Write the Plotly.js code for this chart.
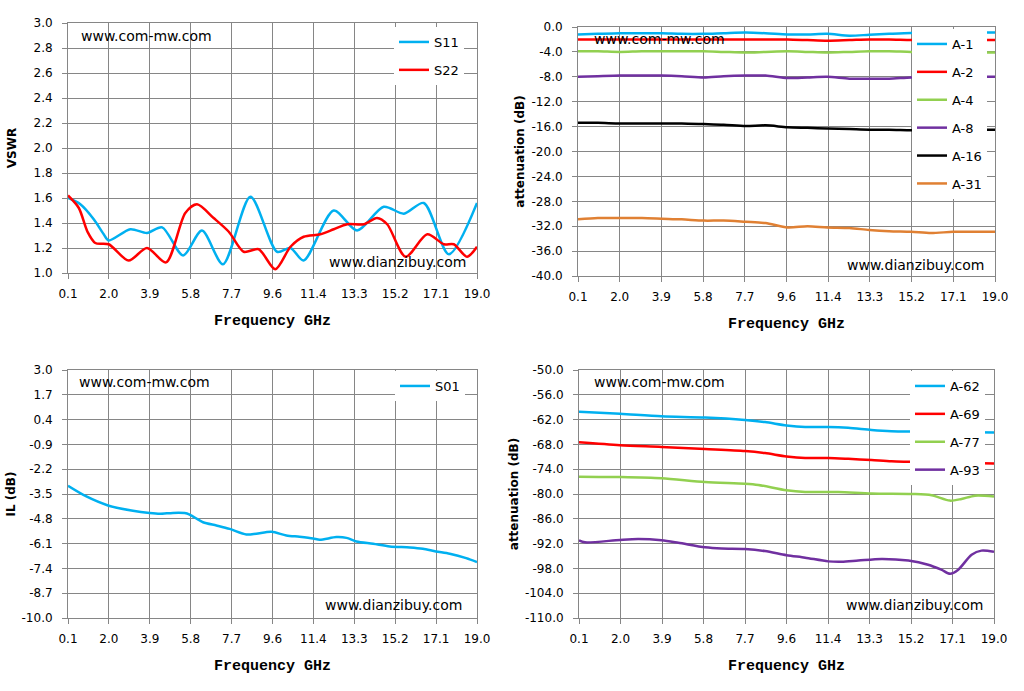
<!DOCTYPE html>
<html>
<head>
<meta charset="utf-8">
<script src="https://cdn.plot.ly/plotly-3.0.1.min.js"></script>
<style>html,body{margin:0;padding:0;background:#fff;}#chart{width:1024px;height:691px;}</style>
</head>
<body>
<div id="chart"></div>
<script>
// ---- tick labels ----
const freqTickVals = [0.1, 1.99, 3.88, 5.77, 7.66, 9.55, 11.44, 13.33, 15.22, 17.11, 19.0];
const freqTickText = ['0.1', '2.0', '3.9', '5.8', '7.7', '9.6', '11.4', '13.3', '15.2', '17.1', '19.0'];
const vswrTicks = [1.0, 1.2, 1.4, 1.6, 1.8, 2.0, 2.2, 2.4, 2.6, 2.8, 3.0];
const vswrTickText = ['1.0', '1.2', '1.4', '1.6', '1.8', '2.0', '2.2', '2.4', '2.6', '2.8', '3.0'];
const attLowTicks = [-40, -36, -32, -28, -24, -20, -16, -12, -8, -4, 0];
const attLowTickText = ['-40.0', '-36.0', '-32.0', '-28.0', '-24.0', '-20.0', '-16.0', '-12.0', '-8.0', '-4.0', '0.0'];
const ilTicks = [-10, -8.7, -7.4, -6.1, -4.8, -3.5, -2.2, -0.9, 0.4, 1.7, 3.0];
const ilTickText = ['-10.0', '-8.7', '-7.4', '-6.1', '-4.8', '-3.5', '-2.2', '-0.9', '0.4', '1.7', '3.0'];
const attHighTicks = [-110, -104, -98, -92, -86, -80, -74, -68, -62, -56, -50];
const attHighTickText = ['-110.0', '-104.0', '-98.0', '-92.0', '-86.0', '-80.0', '-74.0', '-68.0', '-62.0', '-56.0', '-50.0'];

// ---- VSWR (top left) ----
const s11Freq = [0.1, 0.67, 1.29, 1.75, 1.98, 2.98, 3.75, 4.45, 5.42, 6.29, 7.26, 8.53, 9.76, 10.38, 10.99, 12.38, 13.46, 14.69, 15.62, 16.54, 17.7, 19.0];
const s11 = [1.60, 1.55, 1.43, 1.31, 1.26, 1.35, 1.32, 1.365, 1.14, 1.34, 1.07, 1.61, 1.17, 1.20, 1.10, 1.50, 1.34, 1.53, 1.475, 1.56, 1.15, 1.56];
const s22Freq = [0.1, 0.6, 1.0, 1.36, 1.98, 2.9, 3.75, 4.63, 5.52, 6.06, 6.83, 7.53, 8.22, 8.91, 9.68, 10.38, 10.99, 11.76, 12.38, 13.0, 13.77, 14.38, 14.85, 15.7, 16.7, 17.47, 17.93, 18.54, 19.0];
const s22 = [1.62, 1.52, 1.33, 1.24, 1.23, 1.10, 1.20, 1.085, 1.48, 1.55, 1.44, 1.33, 1.17, 1.19, 1.03, 1.21, 1.29, 1.31, 1.35, 1.39, 1.39, 1.44, 1.39, 1.13, 1.31, 1.23, 1.23, 1.13, 1.21];

// ---- low attenuation (top right) ----
const attFreq = [0.1, 1.0, 2.0, 3.0, 3.9, 4.8, 5.8, 6.7, 7.7, 8.6, 9.6, 10.5, 11.4, 12.4, 13.3, 14.2, 15.2, 16.1, 17.1, 18.0, 19.0];
const a1 = [-1.2, -1.1, -1.0, -1.0, -1.0, -1.1, -1.1, -1.0, -0.9, -1.0, -1.2, -1.2, -1.1, -1.4, -1.25, -1.1, -0.95, -0.9, -0.9, -0.9, -0.9];
const a2 = [-2.0, -2.0, -2.0, -2.0, -2.0, -2.0, -2.0, -2.0, -2.0, -2.0, -2.0, -2.1, -2.2, -2.1, -2.0, -2.0, -2.1, -2.1, -2.1, -2.1, -2.1];
const a4 = [-3.9, -3.9, -4.0, -3.9, -3.9, -3.9, -3.9, -4.0, -4.1, -4.0, -3.9, -4.0, -4.1, -4.0, -3.9, -3.9, -4.0, -4.0, -4.0, -4.1, -4.1];
const a8 = [-8.0, -7.9, -7.8, -7.8, -7.8, -7.9, -8.1, -7.9, -7.8, -7.8, -8.2, -8.1, -8.0, -8.3, -8.3, -8.3, -8.1, -8.1, -8.0, -8.0, -8.0];
const a16 = [-15.4, -15.4, -15.5, -15.5, -15.5, -15.5, -15.6, -15.7, -15.9, -15.8, -16.1, -16.2, -16.3, -16.4, -16.5, -16.5, -16.6, -16.6, -16.6, -16.5, -16.5];
const a31 = [-30.9, -30.7, -30.7, -30.7, -30.8, -30.9, -31.1, -31.1, -31.3, -31.5, -32.2, -32.0, -32.2, -32.3, -32.6, -32.8, -32.9, -33.1, -32.9, -32.9, -32.9];

// ---- insertion loss (bottom left) ----
const s01Freq = [0.1, 0.95, 1.95, 3.1, 3.87, 4.34, 4.95, 5.49, 5.72, 6.34, 6.96, 7.57, 8.34, 8.8, 9.5, 10.19, 10.8, 11.43, 11.73, 12.5, 12.97, 13.43, 14.2, 14.97, 15.9, 16.5, 17.1, 17.74, 18.5, 19.0];
const s01 = [-3.07, -3.63, -4.10, -4.38, -4.50, -4.54, -4.49, -4.50, -4.58, -4.98, -5.15, -5.33, -5.62, -5.58, -5.48, -5.67, -5.74, -5.83, -5.90, -5.76, -5.80, -5.99, -6.11, -6.25, -6.30, -6.37, -6.51, -6.63, -6.86, -7.07];

// ---- high attenuation (bottom right) ----
const hiFreq = [0.1, 1.97, 3.86, 5.84, 7.66, 8.57, 9.55, 10.4, 11.45, 12.36, 13.42, 14.33, 15.17, 19.0];
const a62 = [-60.1, -60.6, -61.2, -61.5, -62.1, -62.6, -63.4, -63.8, -63.8, -64.0, -64.5, -64.8, -64.9, -65.1];
const a69 = [-67.5, -68.2, -68.6, -69.1, -69.6, -70.1, -70.9, -71.3, -71.3, -71.5, -71.8, -72.1, -72.2, -72.6];
const a77Freq = [0.1, 1.97, 3.86, 5.84, 7.66, 8.27, 9.55, 10.4, 11.9, 13.42, 15.25, 16.16, 16.99, 17.52, 18.13, 19.0];
const a77 = [-75.8, -75.9, -76.2, -77.1, -77.5, -77.8, -79.1, -79.5, -79.5, -79.9, -80.0, -80.3, -81.6, -81.2, -80.4, -80.6];
const a93Freq = [0.1, 0.37, 1.97, 2.8, 3.86, 4.62, 5.84, 6.6, 7.66, 8.57, 9.55, 10.4, 11.45, 12.06, 12.82, 13.88, 15.1, 16.0, 16.6, 17.0, 17.37, 17.98, 18.43, 19.0];
const a93 = [-91.2, -91.7, -91.1, -90.9, -91.2, -91.8, -92.9, -93.2, -93.3, -93.8, -94.8, -95.4, -96.3, -96.4, -96.1, -95.7, -96.1, -97.1, -98.3, -99.3, -98.3, -94.7, -93.7, -94.0];

const W = 1024, H = 691;
const px = v => v / W;
const py = v => (H - v) / H;

const grid = '#868686';
const tickFont = {family: 'DejaVu Sans, Verdana, sans-serif', size: 12, color: '#000'};
const xTitleFont = {family: 'Liberation Mono, DejaVu Sans Mono, monospace', size: 15, color: '#000', weight: 'bold'};
const yTitleFont = {family: 'DejaVu Sans, Verdana, sans-serif', size: 12, color: '#000', weight: 'bold'};

function xAxis(domain, anchor) {
  return {
    domain: domain, anchor: anchor, range: [0.1, 19.0],
    tickmode: 'array', tickvals: freqTickVals, ticktext: freqTickText,
    showgrid: true, gridcolor: grid, gridwidth: 1,
    showline: true, linecolor: grid, linewidth: 1, mirror: true,
    ticks: 'outside', ticklen: 5, tickcolor: grid, zeroline: false,
    tickfont: tickFont, ticklabelstandoff: 5,
    title: {text: 'Frequency GHz', font: xTitleFont, standoff: 14}
  };
}
function yAxis(domain, anchor, range, vals, text, title, standoff) {
  return {
    domain: domain, anchor: anchor, range: range,
    tickmode: 'array', tickvals: vals, ticktext: text,
    showgrid: true, gridcolor: grid, gridwidth: 1,
    showline: true, linecolor: grid, linewidth: 1, mirror: true,
    ticks: 'outside', ticklen: 5, tickcolor: grid, zeroline: false,
    tickfont: tickFont, ticklabelstandoff: 7,
    title: {text: title, font: yTitleFont, standoff: standoff}
  };
}

function line(x, y, name, color, xa, ya, legend) {
  return {
    type: 'scatter', mode: 'lines', x: x, y: y, name: name,
    xaxis: xa, yaxis: ya, legend: legend, legendgroup: name,
    line: {color: color, width: 2.5, shape: 'spline', smoothing: 0.8}
  };
}

const data = [
  line(s11Freq, s11, 'S11', '#00B0F0', 'x', 'y', 'legend'),
  line(s22Freq, s22, 'S22', '#FF0000', 'x', 'y', 'legend'),
  line(attFreq, a1, 'A-1', '#00B0F0', 'x2', 'y2', 'legend2'),
  line(attFreq, a2, 'A-2', '#FF0000', 'x2', 'y2', 'legend2'),
  line(attFreq, a4, 'A-4', '#92D050', 'x2', 'y2', 'legend2'),
  line(attFreq, a8, 'A-8', '#7030A0', 'x2', 'y2', 'legend2'),
  line(attFreq, a16, 'A-16', '#000000', 'x2', 'y2', 'legend2'),
  line(attFreq, a31, 'A-31', '#E08033', 'x2', 'y2', 'legend2'),
  line(s01Freq, s01, 'S01', '#00B0F0', 'x3', 'y3', 'legend3'),
  line(hiFreq, a62, 'A-62', '#00B0F0', 'x4', 'y4', 'legend4'),
  line(hiFreq, a69, 'A-69', '#FF0000', 'x4', 'y4', 'legend4'),
  line(a77Freq, a77, 'A-77', '#92D050', 'x4', 'y4', 'legend4'),
  line(a93Freq, a93, 'A-93', '#7030A0', 'x4', 'y4', 'legend4')
];

const legendFont = {family: 'DejaVu Sans, Verdana, sans-serif', size: 13, color: '#000'};
function legend(x, y) {
  return {x: px(x), y: py(y), xanchor: 'left', yanchor: 'top', bgcolor: '#ffffff',
    borderwidth: 0, font: legendFont, tracegroupgap: 8, traceorder: 'grouped'};
}

const wmFont = {family: 'DejaVu Sans, Verdana, sans-serif', size: 14, color: '#000'};
function wm(text, x, y) {
  return {text: text, xref: 'paper', yref: 'paper', x: px(x), y: py(y),
    xanchor: 'left', yanchor: 'middle', showarrow: false, font: wmFont};
}

const topDom = [py(273), py(23)];
const topDom2 = [py(276), py(27)];
const botDom = [py(618), py(370)];

const layout = {
  width: W, height: H, autosize: false,
  margin: {l: 0, r: 0, t: 0, b: 0},
  paper_bgcolor: '#ffffff', plot_bgcolor: '#ffffff',
  showlegend: true,
  xaxis: xAxis([px(68), px(477)], 'y'),
  yaxis: yAxis(topDom, 'x', [1.0, 3.0], vswrTicks, vswrTickText, 'VSWR', 14),
  xaxis2: xAxis([px(578), px(995)], 'y2'),
  yaxis2: yAxis(topDom2, 'x2', [-40, 0], attLowTicks, attLowTickText, 'attenuation (dB)', 4),
  xaxis3: xAxis([px(68), px(477)], 'y3'),
  yaxis3: yAxis(botDom, 'x3', [-10, 3], ilTicks, ilTickText, 'IL (dB)', 3),
  xaxis4: xAxis([px(579), px(994)], 'y4'),
  yaxis4: yAxis(botDom, 'x4', [-110, -50], attHighTicks, attHighTickText, 'attenuation (dB)', 3),
  legend: legend(394, 27),
  legend2: legend(912, 29),
  legend3: legend(395, 371),
  legend4: legend(910, 371),
  annotations: [
    wm('www.com-mw.com', 79, 36),
    wm('www.dianzibuy.com', 327, 262),
    wm('www.com-mw.com', 592, 39),
    wm('www.dianzibuy.com', 845, 265),
    wm('www.com-mw.com', 77, 382),
    wm('www.dianzibuy.com', 323, 605),
    wm('www.com-mw.com', 592, 382),
    wm('www.dianzibuy.com', 844, 605)
  ]
};

Plotly.newPlot('chart', data, layout, {staticPlot: true, displayModeBar: false});
</script>
</body>
</html>
